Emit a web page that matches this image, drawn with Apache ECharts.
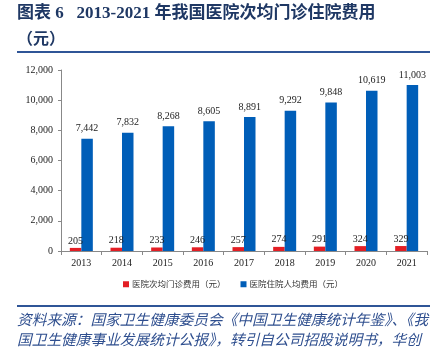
<!DOCTYPE html>
<html><head><meta charset="utf-8">
<script src="https://cdn.jsdelivr.net/npm/echarts@6/dist/echarts.min.js"></script>
<style>html,body{margin:0;padding:0;background:#fff;}#c{width:439px;height:349px;}</style>
</head><body><div id="c"></div>
<script>
const years = ['2013','2014','2015','2016','2017','2018','2019','2020','2021'];
const outpatient = [205,218,233,246,257,274,291,324,329];
const inpatient = [7442,7832,8268,8605,8891,9292,9848,10619,11003];
const yTicks = {min:0, max:12000, interval:2000};
const seriesNames = ['医院次均门诊费用（元）','医院住院人均费用（元）'];
const titleLine1 = '图表 6   2013-2021 年我国医院次均门诊住院费用';
const titleLine2 = '（元）';
const source1 = '资料来源：国家卫生健康委员会《中国卫生健康统计年鉴》、《我';
const source2 = '国卫生健康事业发展统计公报》，转引自公司招股说明书，华创';

const fmt = v => Number(v).toLocaleString('en-US');
const serif = '"Liberation Serif","Times New Roman",serif';
const navy = '#1F3864';

const chart = echarts.init(document.getElementById('c'), null, {renderer:'canvas'});
chart.setOption({
  animation:false,
  backgroundColor:'#fff',
  graphic:[
    {type:'text', left:17, top:5, style:{text:titleLine1, font:'bold 17px "Liberation Serif","Noto Sans CJK SC",serif', fill:navy}},
    {type:'text', left:17, top:30, style:{text:titleLine2, font:'bold 16px "Noto Sans CJK SC",serif', fill:navy}},
    {type:'rect', shape:{x:17,y:51,width:413,height:2}, style:{fill:'#2F5597'}},
    {type:'rect', shape:{x:17,y:305,width:413,height:2}, style:{fill:'#2F5597'}},
    {type:'text', left:17, top:312, style:{text:source1, font:'italic 14.7px "Noto Sans CJK SC",sans-serif', fill:'#2F4F8F'}},
    {type:'text', left:17, top:332, style:{text:source2, font:'italic 14.7px "Noto Sans CJK SC",sans-serif', fill:'#2F4F8F'}}
  ],
  legend:{
    data:seriesNames, top:275, left:118, itemWidth:6, itemHeight:6, itemGap:15, icon:'rect',
    textStyle:{fontFamily:'"Noto Sans CJK SC",sans-serif', fontSize:8.5, color:'#333', padding:[0,0,0,-2]}
  },
  grid:{left:61, right:12, top:70, bottom:98, containLabel:false},
  xAxis:{
    type:'category', data:years,
    axisLine:{lineStyle:{color:'#888'}},
    axisTick:{show:true, length:4, lineStyle:{color:'#888'}},
    axisLabel:{fontFamily:serif, fontSize:10, color:'#222', margin:7}
  },
  yAxis:{
    type:'value', min:yTicks.min, max:yTicks.max, interval:yTicks.interval,
    splitLine:{show:false},
    axisLine:{show:true, lineStyle:{color:'#888'}},
    axisTick:{show:true, length:3, lineStyle:{color:'#888'}},
    axisLabel:{fontFamily:serif, fontSize:10, color:'#222', margin:8, formatter:fmt}
  },
  series:[
    {name:seriesNames[0], type:'bar', data:outpatient, barWidth:11.5, barGap:'0%',
     itemStyle:{color:'#E31E24'},
     label:{show:true, position:'top', distance:2, formatter:p=>fmt(p.value), fontFamily:serif, fontSize:10, color:'#222'}},
    {name:seriesNames[1], type:'bar', data:inpatient, barWidth:11.5, barGap:'0%',
     itemStyle:{color:'#005EB8'},
     label:{show:true, position:'top', distance:5, formatter:p=>fmt(p.value), fontFamily:serif, fontSize:10, color:'#222'}}
  ]
});
</script></body></html>
